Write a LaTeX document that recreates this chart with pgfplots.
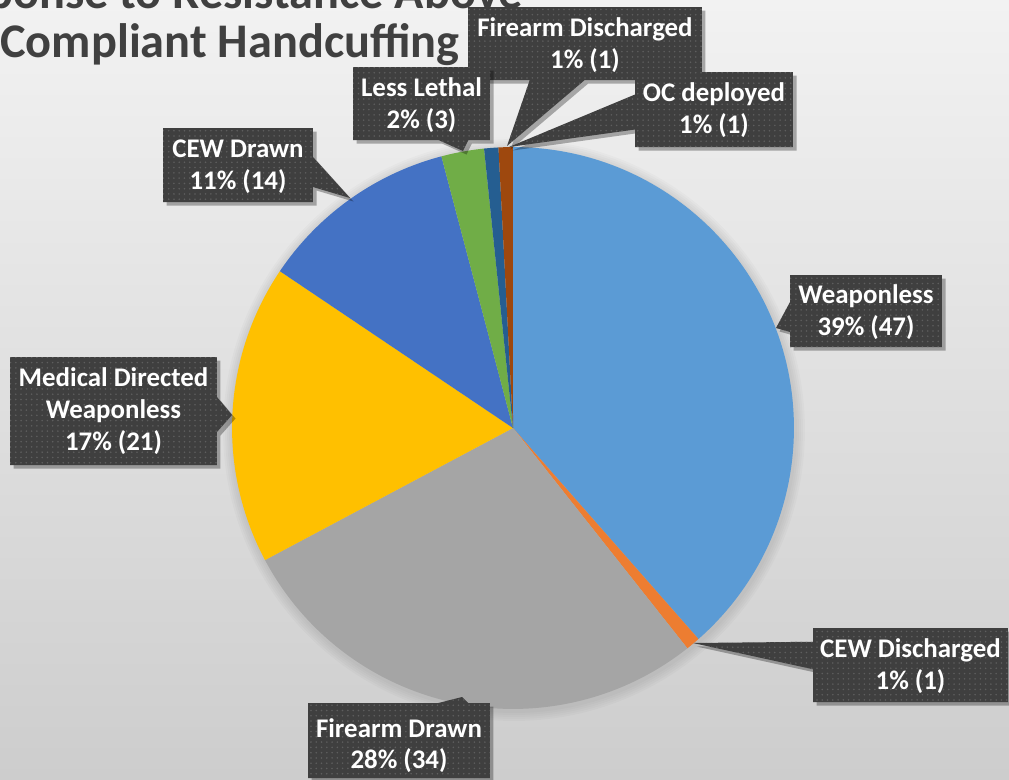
\documentclass[border=0pt]{standalone}
\usepackage{fontspec}
\setmainfont{Carlito}
\usepackage{pgfplots}
\pgfplotsset{compat=1.18}
\usetikzlibrary{shapes.callouts,shadows,patterns}

\definecolor{cWeap}{HTML}{5B9BD5}
\definecolor{cCEWd}{HTML}{ED7D31}
\definecolor{cFD}{HTML}{A5A5A5}
\definecolor{cMed}{HTML}{FFC000}
\definecolor{cCEW}{HTML}{4472C4}
\definecolor{cLL}{HTML}{70AD47}
\definecolor{cFDis}{HTML}{255E91}
\definecolor{cOC}{HTML}{9E480E}
\definecolor{boxgray}{HTML}{3F3F3F}
\definecolor{dotgray}{HTML}{5E5E5E}
\definecolor{titlegray}{HTML}{404040}
\definecolor{bgtop}{HTML}{F2F2F2}
\definecolor{bgbot}{HTML}{CDCDCD}

\tikzset{
  lbl/.style={rectangle callout, fill=boxgray, draw=none, inner sep=0pt,
    drop shadow={shadow xshift=2pt, shadow yshift=-2pt, opacity=0.3, fill=black},
    postaction={pattern=dots, pattern color=dotgray},
    callout pointer width=0.6cm},
  txt/.style={anchor=base, inner sep=0pt, text=white,
    font=\fontsize{15.3}{18}\selectfont\bfseries},
  ttl/.style={inner sep=0pt, text=titlegray,
    font=\fontsize{27.5}{33}\selectfont\bfseries},
}

\begin{document}
\begin{tikzpicture}
\def\R{5.62cm}
% counts per category, clockwise from 12 o'clock (total 122)
\gdef\acc{90}
\foreach \v/\c [count=\i] in {47/cWeap,1/cCEWd,34/cFD,21/cMed,14/cCEW,3/cLL,1/cFDis,1/cOC} {
  \pgfmathsetmacro\b{\acc-\v/122*360}
  \expandafter\xdef\csname sA\i\endcsname{\acc}
  \expandafter\xdef\csname sB\i\endcsname{\b}
  \expandafter\xdef\csname sC\i\endcsname{\c}
  \xdef\acc{\b}
}
\begin{axis}[name=ax, x=0.02cm, y=0.02cm, xmin=0, xmax=1009, ymin=0, ymax=779,
  y dir=reverse, hide axis, clip=false]
  \shade[top color=bgtop, bottom color=bgbot] (axis cs:0,0) rectangle (axis cs:1009,779);
  \coordinate (bl) at (axis cs:0,779);
  \coordinate (tr) at (axis cs:1009,0);

  % title
  \node[ttl, anchor=base east] at (axis cs:523,8) {Response to Resistance Above};
  \node[ttl, anchor=base west] at (axis cs:0,57) {Compliant Handcuffing};

  % soft shadow of the pie
  \pgfplotsinvokeforeach{1,...,5}{
    \fill[black, opacity=0.02] (axis cs:514,430) circle[radius=5.62cm+#1*0.04cm];
  }
  % slices
  \pgfplotsinvokeforeach{1,...,8}{
    \fill[\csname sC#1\endcsname] (axis cs:513,428) -- ++(\csname sA#1\endcsname:\R)
      arc[start angle=\csname sA#1\endcsname, end angle=\csname sB#1\endcsname, radius=\R] -- cycle;
  }

  % data labels
  \node[lbl, callout pointer width=1.1cm, minimum width=4.68cm, minimum height=1.46cm, callout absolute pointer={(axis cs:507,146)}] at (axis cs:585,43.5) {};
  \node[txt] at (axis cs:585,36) {Firearm Discharged};
  \node[txt] at (axis cs:585,68) {1\% (1)};

  \node[lbl, callout pointer width=0.7cm, minimum width=3.16cm, minimum height=1.5cm, callout absolute pointer={(axis cs:509,147)}] at (axis cs:714,109.5) {};
  \node[txt] at (axis cs:714,101) {OC deployed};
  \node[txt] at (axis cs:714,133) {1\% (1)};

  \node[lbl, minimum width=2.74cm, minimum height=1.46cm, callout absolute pointer={(axis cs:463,151)}] at (axis cs:421.5,103.5) {};
  \node[txt] at (axis cs:421.5,96) {Less Lethal};
  \node[txt] at (axis cs:421.5,128) {2\% (3)};

  \node[lbl, minimum width=3.0cm, minimum height=1.48cm, callout absolute pointer={(axis cs:350,198)}] at (axis cs:238,165) {};
  \node[txt] at (axis cs:238,157) {CEW Drawn};
  \node[txt] at (axis cs:238,189) {11\% (14)};

  \node[lbl, minimum width=3.04cm, minimum height=1.44cm, callout absolute pointer={(axis cs:776,328)}] at (axis cs:866,311) {};
  \node[txt] at (axis cs:866,303) {Weaponless};
  \node[txt] at (axis cs:866,335) {39\% (47)};

  \node[lbl, callout pointer width=0.7cm, minimum width=4.14cm, minimum height=2.16cm, callout absolute pointer={(axis cs:232,415)}] at (axis cs:113.5,411) {};
  \node[txt] at (axis cs:113.5,386) {Medical Directed};
  \node[txt] at (axis cs:113.5,418) {Weaponless};
  \node[txt] at (axis cs:113.5,450) {17\% (21)};

  \node[lbl, callout pointer width=0.55cm, minimum width=3.9cm, minimum height=1.48cm, callout absolute pointer={(axis cs:693,643)}] at (axis cs:910.5,665) {};
  \node[txt] at (axis cs:910.5,657) {CEW Discharged};
  \node[txt] at (axis cs:910.5,689) {1\% (1)};

  \node[lbl, minimum width=3.64cm, minimum height=1.5cm, callout absolute pointer={(axis cs:462,697)}] at (axis cs:399,740.5) {};
  \node[txt] at (axis cs:399,737) {Firearm Drawn};
  \node[txt] at (axis cs:399,768) {28\% (34)};
\end{axis}
\pgfresetboundingbox
\path[use as bounding box] (bl) rectangle (tr);
\end{tikzpicture}
\end{document}
